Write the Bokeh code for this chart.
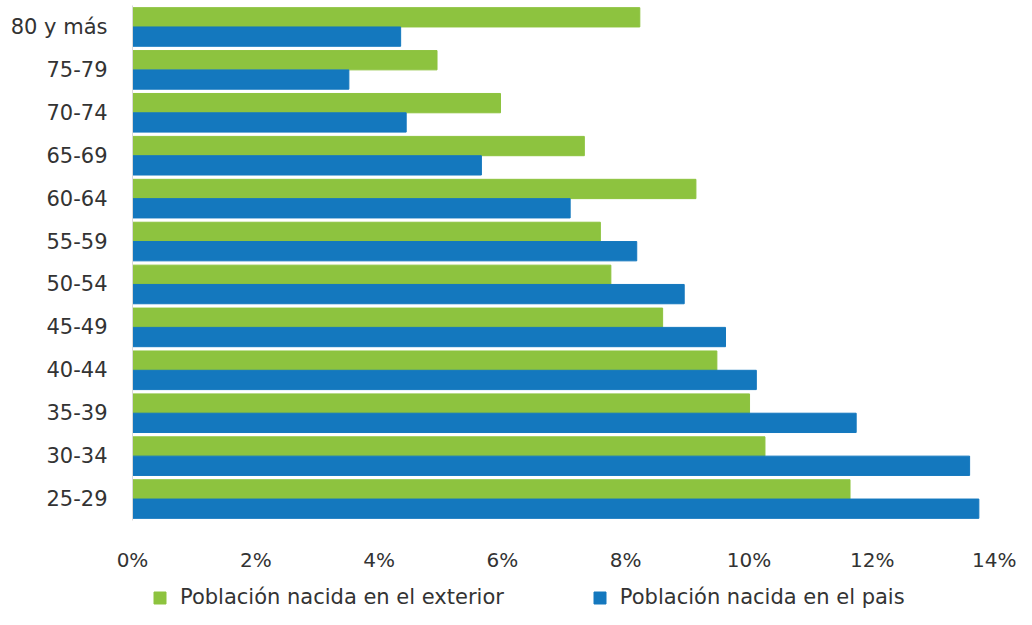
from bokeh.plotting import figure
from bokeh.layouts import column
from bokeh.models import (FactorRange, Range1d, Legend, LegendItem, FixedTicker,
                          PrintfTickFormatter, ColumnDataSource)
from bokeh.transform import dodge
from bokeh.embed import file_html
from bokeh.resources import INLINE

ages = ["25-29", "30-34", "35-39", "40-44", "45-49", "50-54",
        "55-59", "60-64", "65-69", "70-74", "75-79", "80 y más"]
exterior = [11.64, 10.26, 10.01, 9.48, 8.60, 7.76, 7.59, 9.14, 7.33, 5.97, 4.94, 8.23]
pais = [13.73, 13.58, 11.74, 10.12, 9.62, 8.95, 8.18, 7.10, 5.66, 4.44, 3.51, 4.35]
x_ticks = [0, 2, 4, 6, 8, 10, 12, 14]
series_names = ["Población nacida en el exterior", "Población nacida en el pais"]

GREEN = "#8DC33F"
BLUE = "#1478BE"
FONT = "DejaVu Sans"
TXT = "#333333"

src = ColumnDataSource(dict(age=ages, ext=exterior, pais=pais))

p = figure(width=1016, height=574,
           y_range=FactorRange(*ages, range_padding=0),
           x_range=Range1d(0, 14),
           output_backend="svg", toolbar_location=None,
           min_border_left=132, min_border_right=21,
           min_border_top=5, min_border_bottom=45)

r1 = p.hbar(y=dodge("age", 0.225, range=p.y_range), left=0, right="ext",
            height=0.45, source=src, fill_color=GREEN, line_color=GREEN)
r2 = p.hbar(y=dodge("age", -0.225, range=p.y_range), left=0, right="pais",
            height=0.45, source=src, fill_color=BLUE, line_color=BLUE)

p.xgrid.grid_line_color = None
p.ygrid.grid_line_color = None
p.outline_line_color = None

p.xaxis.ticker = FixedTicker(ticks=x_ticks)
p.xaxis.formatter = PrintfTickFormatter(format="%d%%")
p.xaxis.axis_line_color = None
p.xaxis.major_tick_line_color = None
p.xaxis.minor_tick_line_color = None
p.xaxis.major_label_standoff = 21
p.xaxis.major_label_text_font = FONT
p.xaxis.major_label_text_font_size = "20px"
p.xaxis.major_label_text_color = TXT

p.yaxis.axis_line_color = "#d9d9d9"
p.yaxis.axis_line_width = 1
p.yaxis.major_tick_line_color = None
p.yaxis.minor_tick_line_color = None
p.yaxis.major_label_standoff = 19
p.yaxis.major_label_text_font = FONT
p.yaxis.major_label_text_font_size = "21px"
p.yaxis.major_label_text_color = TXT

# legend strip below the chart (frame aligned with the main chart)
lg = figure(width=1016, height=35, x_range=Range1d(0, 1), y_range=Range1d(0, 1),
            output_backend="svg", toolbar_location=None,
            min_border_left=0, min_border_right=0, min_border_top=0, min_border_bottom=0)
lg.axis.visible = False
lg.grid.grid_line_color = None
lg.outline_line_color = None
k1 = lg.hbar(y=0.5, left=0, right="ext", height=0.5, source=src,
             fill_color=GREEN, line_color=GREEN, visible=False)
k2 = lg.hbar(y=0.5, left=0, right="pais", height=0.5, source=src,
             fill_color=BLUE, line_color=BLUE, visible=False)

legend = Legend(items=[LegendItem(label=series_names[0], renderers=[k1]),
                       LegendItem(label=series_names[1], renderers=[k2])],
                orientation="horizontal", location=(20, 0),
                glyph_width=15, glyph_height=15, label_standoff=13, spacing=88,
                border_line_color=None, background_fill_alpha=0,
                inactive_fill_alpha=0,
                padding=0, margin=0,
                label_text_font=FONT, label_text_font_size="21px",
                label_text_color=TXT)
lg.add_layout(legend, "center")

layout = column(p, lg)
open("out.html", "w").write(file_html(layout, INLINE))
